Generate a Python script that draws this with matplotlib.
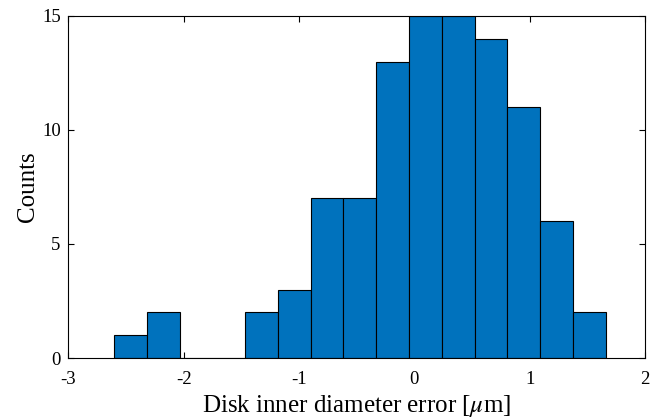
import matplotlib
matplotlib.use("Agg")
import matplotlib.pyplot as plt
import numpy as np

# histogram data
bin_start = -2.604
bin_stop = 1.657
counts = [1, 2, 0, 0, 2, 3, 7, 7, 13, 15, 15, 14, 11, 6, 2]
x_ticks = [-3, -2, -1, 0, 1, 2]
y_ticks = [0, 5, 10, 15]

plt.rcParams['font.family'] = ['Liberation Serif', 'DejaVu Serif']
plt.rcParams['mathtext.fontset'] = 'stix'

edges = np.linspace(bin_start, bin_stop, len(counts) + 1)
widths = np.diff(edges)

fig = plt.figure(figsize=(6.57, 4.2), dpi=100)
ax = fig.add_axes([0.104, 0.1476, 0.878, 0.8144])

ax.bar(edges[:-1], counts, width=widths, align='edge',
       color='#0072BD', edgecolor='black', linewidth=0.8, zorder=2)

ax.set_xlim(-3, 2)
ax.set_ylim(0, 15)
ax.set_xticks(x_ticks)
ax.set_yticks(y_ticks)
ax.set_xticklabels([str(t) for t in x_ticks])
ax.tick_params(direction='in', top=True, right=True, labelsize=13.5,
               length=4, width=0.8)
ax.tick_params(axis='x', pad=9.5)
ax.tick_params(axis='y', pad=5.5)
for sp in ax.spines.values():
    sp.set_linewidth(0.8)
    sp.set_zorder(3)

ax.set_xlabel(r'Disk inner diameter error [$\mu$m]', fontsize=18)
# baseline of the x label sits ~54 px under the axis
ax.xaxis.set_label_coords(0.5, -0.157)
ax.xaxis.label.set_va('baseline')
ax.set_ylabel('Counts', fontsize=18, labelpad=2)

plt.savefig('out.png', dpi=100)
